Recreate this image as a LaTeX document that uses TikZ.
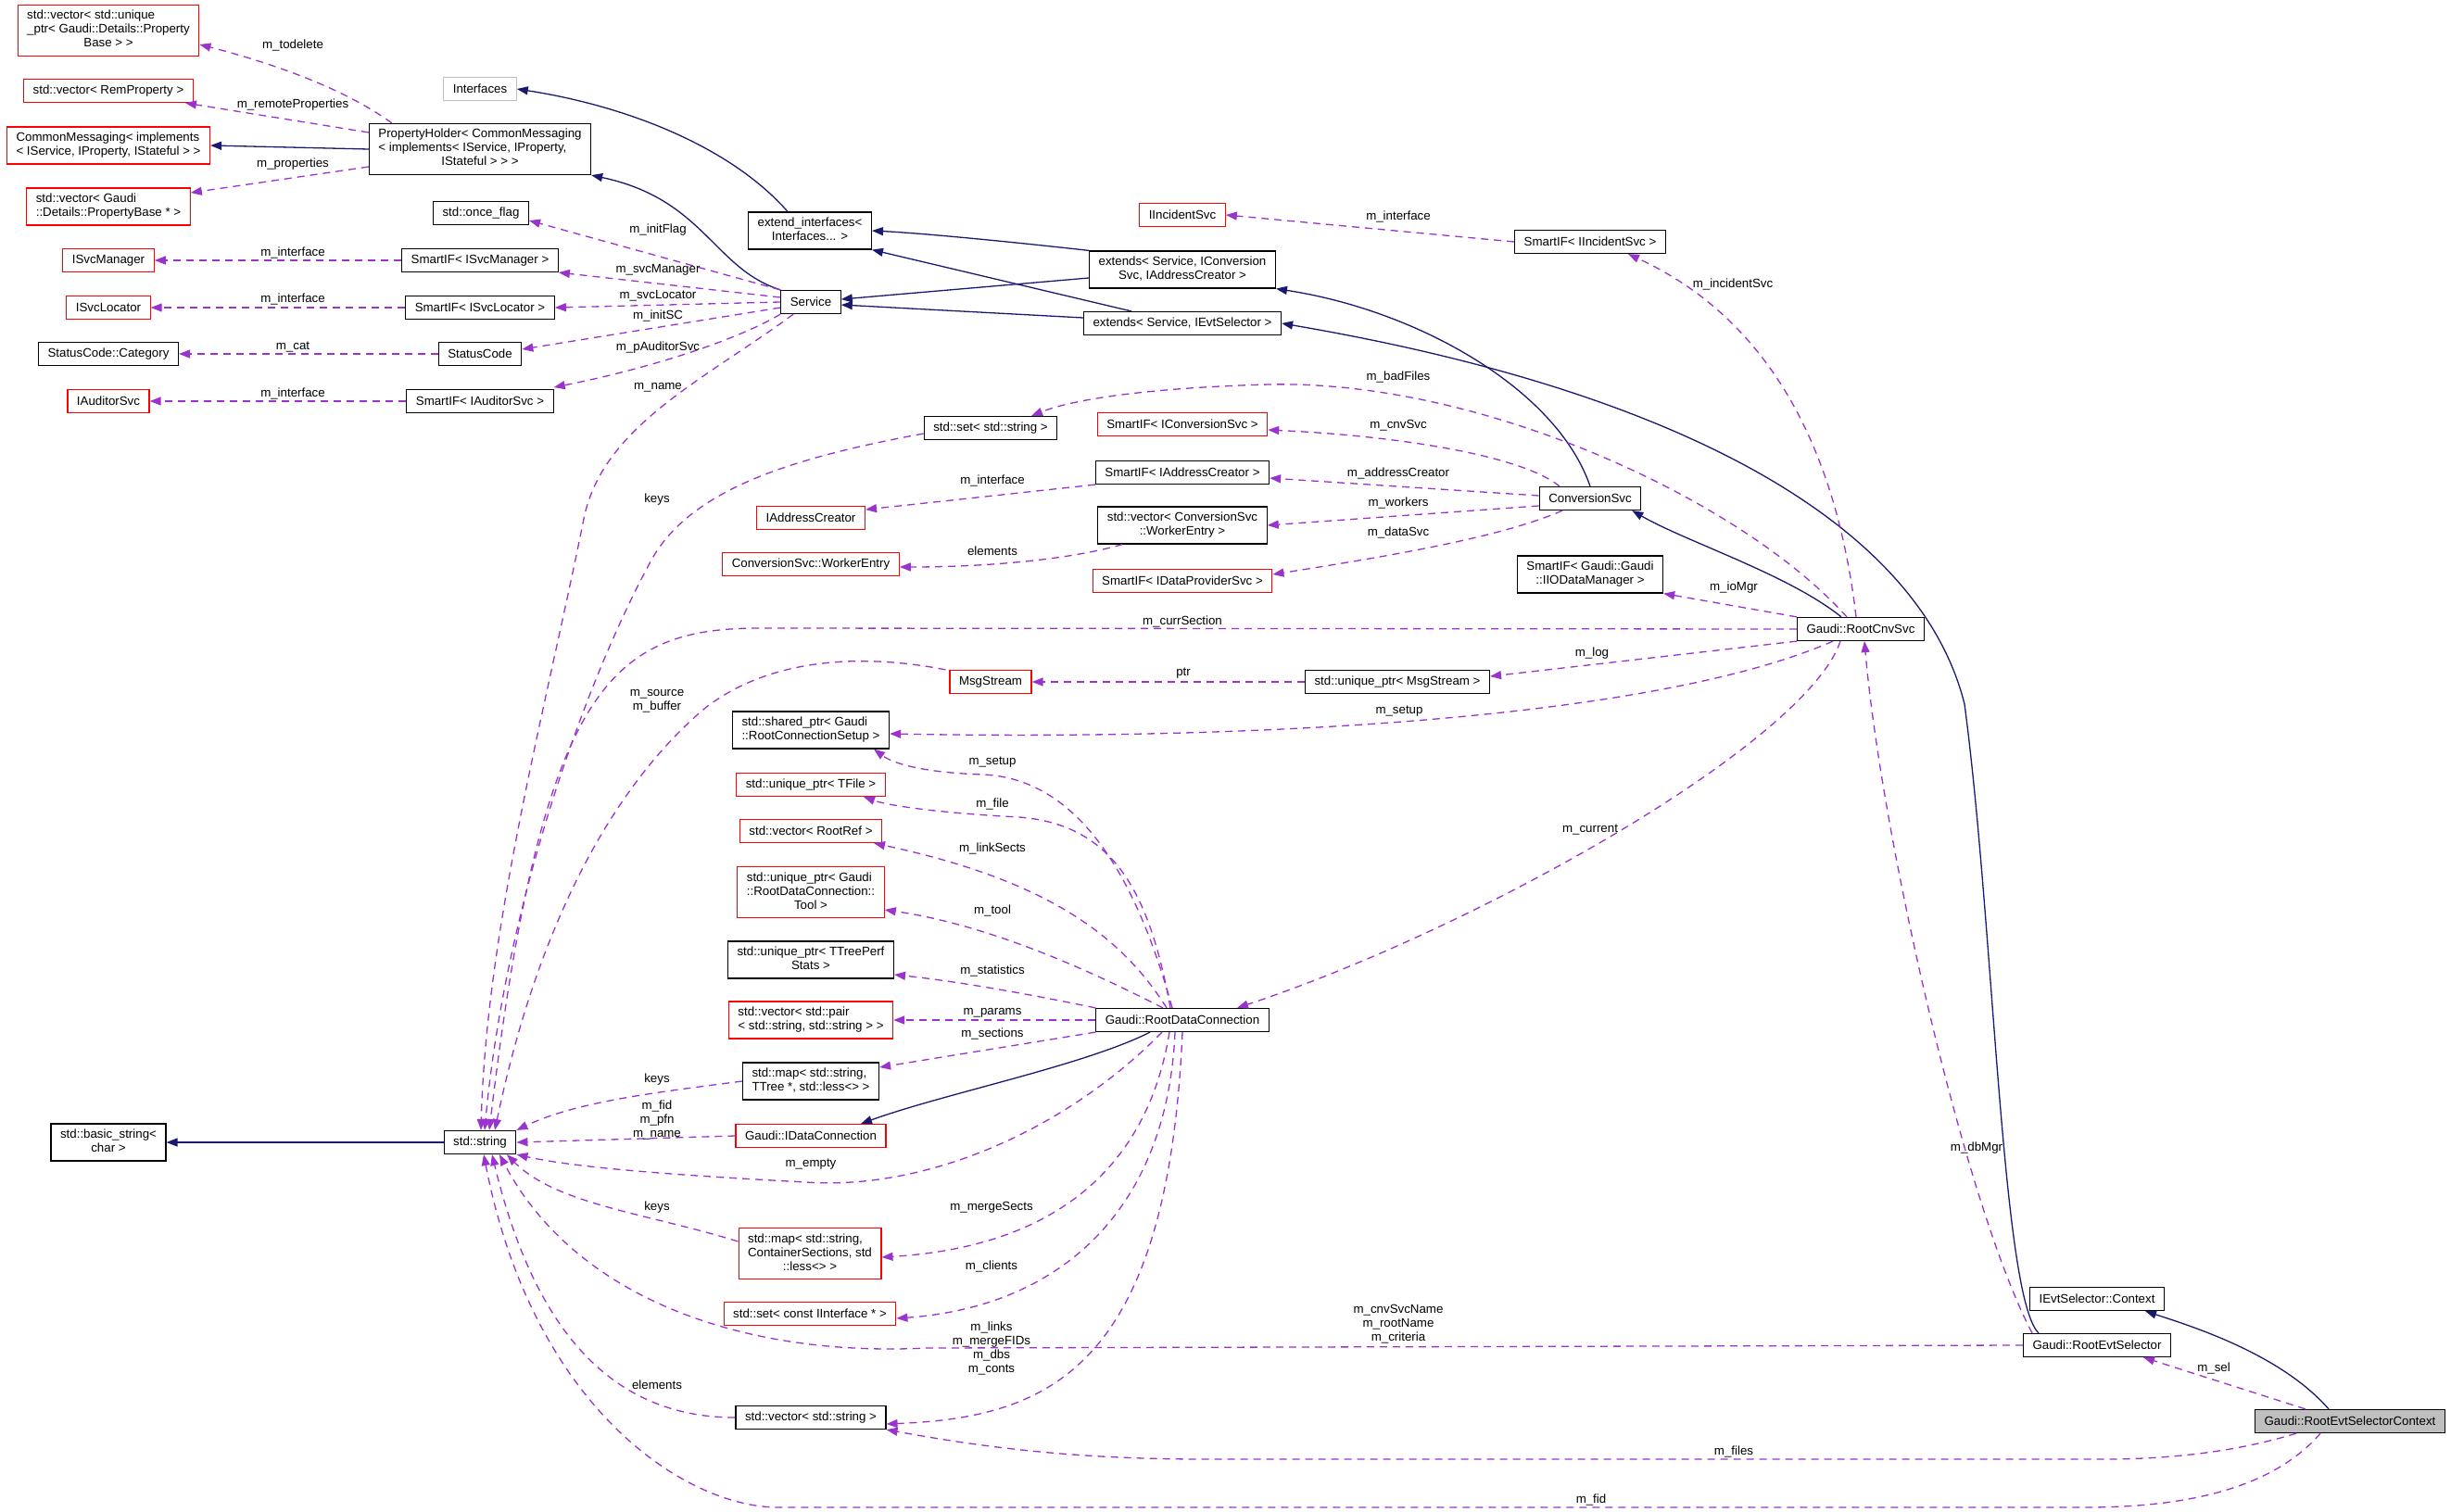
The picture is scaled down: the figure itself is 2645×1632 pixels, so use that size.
\documentclass[tikz,border=0pt]{standalone}
\usepackage{fontspec}
\setmainfont{Liberation Sans}
\usetikzlibrary{arrows.meta}
\definecolor{inhblue}{RGB}{25,25,112}
\definecolor{usepurple}{RGB}{154,50,205}
\definecolor{lightframe}{RGB}{191,191,191}
\newcommand{\twoline}[2]{\begin{tabular}{@{}l@{}}#1\\\multicolumn{1}{@{}c@{}}{#2}\end{tabular}}

\begin{document}
\begin{tikzpicture}[x=1pt, y=-1pt,
  every node/.style={font=\fontsize{13.3}{15}\selectfont},
  cls/.style={draw=black, line width=1.2pt, fill=white, inner xsep=10pt, inner ysep=5pt, minimum height=25pt},
  ext/.style={cls, draw=red},
  inh/.style={draw=inhblue, line width=1.3pt, -{Triangle[length=12pt,width=9pt]}},
  dep/.style={draw=usepurple, line width=1.3pt, dash pattern=on 8pt off 6pt, -{Triangle[length=12pt,width=9pt]}},
  lbl/.style={inner sep=0pt, align=center}]
  \useasboundingbox (0,0) rectangle (2645,1632);

  % left column
  \node[ext] (vecuptr) at (117,33) {\twoline{std::vector< std::unique\\\_ptr< Gaudi::Details::Property}{Base > >}};
  \node[ext] (vecrem) at (117,98) {std::vector< RemProperty >};
  \node[ext] (cmsg) at (117,157) {\twoline{CommonMessaging< implements}{< IService, IProperty, IStateful > >}};
  \node[ext] (vecpb) at (117,223) {\twoline{std::vector< Gaudi}{::Details::PropertyBase * >}};
  \node[ext] (isvcmgr) at (117,281) {ISvcManager};
  \node[ext] (isvcloc) at (117,332) {ISvcLocator};
  \node[cls] (sccat) at (117,382) {StatusCode::Category};
  \node[ext] (iaud) at (117,433) {IAuditorSvc};
  \node[cls] (bstr) at (117,1233) {\twoline{std::basic\_string<}{char >}};

  % second column
  \node[cls, draw=lightframe] (ifaces) at (518,96) {Interfaces};
  \node[cls] (pholder) at (518,161) {\twoline{PropertyHolder< CommonMessaging\\< implements< IService, IProperty,}{IStateful > > >}};
  \node[cls] (once) at (519,230) {std::once\_flag};
  \node[cls] (smgr) at (518,281) {SmartIF< ISvcManager >};
  \node[cls] (sloc) at (518,332) {SmartIF< ISvcLocator >};
  \node[cls] (sc) at (518,382) {StatusCode};
  \node[cls] (saud) at (518,433) {SmartIF< IAuditorSvc >};
  \node[cls] (str) at (518,1233) {std::string};

  % third column
  \node[cls] (extif) at (874,249) {\twoline{extend\_interfaces<}{Interfaces... >}};
  \node[cls] (svc) at (875,326) {Service};
  \node[cls] (setstr) at (1069,462) {std::set< std::string >};
  \node[ext] (iaddr) at (875,559) {IAddressCreator};
  \node[ext] (wentry) at (875,609) {ConversionSvc::WorkerEntry};
  \node[ext] (msg) at (1069,736) {MsgStream};
  \node[cls] (shptr) at (875,788) {\twoline{std::shared\_ptr< Gaudi}{::RootConnectionSetup >}};
  \node[ext] (tfile) at (875,847) {std::unique\_ptr< TFile >};
  \node[ext] (rootref) at (875,897) {std::vector< RootRef >};
  \node[ext] (tool) at (875,963) {\twoline{std::unique\_ptr< Gaudi\\::RootDataConnection::}{Tool >}};
  \node[cls] (perf) at (875,1036) {\twoline{std::unique\_ptr< TTreePerf}{Stats >}};
  \node[ext] (vpair) at (875,1101) {\twoline{std::vector< std::pair}{< std::string, std::string > >}};
  \node[cls] (mtree) at (875,1167) {\twoline{std::map< std::string,}{TTree *, std::less<> >}};
  \node[ext] (idc) at (875,1226) {Gaudi::IDataConnection};
  \node[ext] (mcont) at (874,1353) {\twoline{std::map< std::string,\\ContainerSections, std}{::less<> >}};
  \node[ext] (siface) at (874,1418) {std::set< const IInterface * >};
  \node[cls] (vstr) at (875,1530) {std::vector< std::string >};

  % fourth column
  \node[ext] (iinc) at (1276,232) {IIncidentSvc};
  \node[cls] (extconv) at (1276,291) {\twoline{extends< Service, IConversion}{Svc, IAddressCreator >}};
  \node[cls] (extevt) at (1276,349) {extends< Service, IEvtSelector >};
  \node[ext] (scnv) at (1276,458) {SmartIF< IConversionSvc >};
  \node[cls] (saddr) at (1276,510) {SmartIF< IAddressCreator >};
  \node[cls] (vwork) at (1276,567) {\twoline{std::vector< ConversionSvc}{::WorkerEntry >}};
  \node[ext] (sdata) at (1276,627) {SmartIF< IDataProviderSvc >};
  \node[cls] (rdc) at (1276,1101) {Gaudi::RootDataConnection};

  % right part
  \node[cls] (sinc) at (1716,261) {SmartIF< IIncidentSvc >};
  \node[cls] (cnvsvc) at (1716,538) {ConversionSvc};
  \node[cls] (iomgr) at (1716,620) {\twoline{SmartIF< Gaudi::Gaudi}{::IIODataManager >}};
  \node[cls] (uptrmsg) at (1508,736) {std::unique\_ptr< MsgStream >};
  \node[cls] (rcnv) at (2008,679) {Gaudi::RootCnvSvc};
  \node[cls] (ctxi) at (2263,1402) {IEvtSelector::Context};
  \node[cls] (rsel) at (2263,1452) {Gaudi::RootEvtSelector};
  \node[cls, fill=lightframe] (rctx) at (2536,1534) {Gaudi::RootEvtSelectorContext};

  % inheritance
  \draw[inh] (pholder.west) -- (cmsg.east);
  \draw[inh] ([xshift=-24pt]extif.north) .. controls (790,160) and (680,115) .. (ifaces.east);
  \draw[inh] (svc.north west) .. controls (770,290) and (760,215) .. (pholder.south east);
  \draw[inh] (extconv.north west) .. controls (1100,262) and (1000,252) .. (extif.east);
  \draw[inh] ([xshift=52pt]extevt.north west) -- (extif.south east);
  \draw[inh] ([yshift=-9pt]extconv.west) -- ([yshift=3pt]svc.east);
  \draw[inh] ([yshift=6pt]extevt.west) -- ([yshift=-3pt]svc.east);
  \draw[inh] (cnvsvc.north) .. controls (1680,420) and (1530,335) .. (extconv.south east);
  \draw[inh] ([xshift=48pt]rcnv.north west) .. controls (1930,620) and (1820,585) .. ([xshift=-10pt]cnvsvc.south east);
  \draw[inh] ([xshift=-63pt]rsel.north) .. controls (2160,1400) and (2152,1000) .. (2120,760)
    .. controls (2070,560) and (1800,420) .. (extevt.east);
  \draw[inh] ([xshift=-35pt]rdc.south) .. controls (1170,1150) and (1020,1180) .. ([xshift=54pt]idc.north);
  \draw[inh] (str.west) -- (bstr.east);
  \draw[inh] ([xshift=-23pt]rctx.north) .. controls (2460,1460) and (2360,1430) .. ([xshift=52pt]ctxi.south);

  % members of PropertyHolder and the SmartIFs
  \draw[dep] ([xshift=25pt]pholder.north west) .. controls (385,105) and (320,75) .. ([yshift=-15pt]vecuptr.east);
  \draw[dep] ([yshift=18pt]pholder.west) -- ([xshift=-9pt]vecrem.south east);
  \draw[dep] ([yshift=-19pt]pholder.west) -- ([yshift=15pt]vecpb.east);
  \foreach \a/\b in {smgr/isvcmgr, sloc/isvcloc, sc/sccat, saud/iaud}
    \draw[dep] (\a.west) -- (\b.east);
  \node[lbl] (ltodel) at (316,49) {m\_todelete};
  \node[lbl] (lremote) at (316,113) {m\_remoteProperties};
  \node[lbl] (lprops) at (316,177) {m\_properties};
  \node[lbl] (lif1) at (316,273) {m\_interface};
  \node[lbl] (lif2) at (316,323) {m\_interface};
  \node[lbl] (lcat) at (316,375) {m\_cat};
  \node[lbl] (lif3) at (316,425) {m\_interface};

  % members of Service
  \draw[dep] (svc.north west) -- ([yshift=-8pt]once.east);
  \draw[dep] ([yshift=5pt]svc.west) -- (smgr.south east);
  \draw[dep] (svc.west) -- (sloc.east);
  \draw[dep] ([yshift=-6pt]svc.west) -- ([yshift=5pt]sc.east);
  \draw[dep] (svc.south west) .. controls (790,370) and (690,400) .. ([yshift=15pt]saud.east);
  \draw[dep] ([xshift=14pt]svc.south west) .. controls (760,410) and (650,460) .. (630,560)
    .. controls (590,760) and (525,1000) .. ([xshift=1pt]str.north);
  \node[lbl] (linitflag) at (710,248) {m\_initFlag};
  \node[lbl] (lsvcmgr) at (710,291) {m\_svcManager};
  \node[lbl] (lsvcloc) at (710,319) {m\_svcLocator};
  \node[lbl] (linitsc) at (710,341) {m\_initSC};
  \node[lbl] (laudit) at (710,375) {m\_pAuditorSvc};
  \node[lbl] (lname) at (710,418) {m\_name};

  % std::string users above
  \draw[dep] ([yshift=-6pt]setstr.west) .. controls (850,495) and (740,530) .. (700,610)
    .. controls (630,740) and (545,980) .. ([xshift=5pt]str.north);
  \draw[dep] (rcnv.west) -- (820,678) .. controls (660,678) and (585,740) .. ([xshift=10pt]str.north);
  \draw[dep] ([xshift=-4pt]msg.north west) .. controls (930,705) and (830,710) .. (760,765)
    .. controls (660,850) and (580,1000) .. ([xshift=16pt]str.north);
  \node[lbl] (lkeys1) at (709,539) {keys};
  \node[lbl] (lsource) at (709,757) {m\_source\\m\_buffer};
  \node[lbl] (lcurrsec) at (1276,671) {m\_currSection};

  % members of RootCnvSvc
  \draw[dep] ([xshift=-30pt]rcnv.south) .. controls (1800,770) and (1400,800) .. ([yshift=-4pt]shptr.east);
  \draw[dep] ([xshift=-22pt]rcnv.south) .. controls (1950,800) and (1600,1000) .. ([xshift=59pt]rdc.north);
  \draw[dep] (rcnv.south west) -- ([yshift=6pt]uptrmsg.east);
  \draw[dep] (rcnv.north west) -- (iomgr.south east);
  \draw[dep] ([xshift=-15pt]rcnv.north) .. controls (1880,540) and (1600,410) .. (1370,415)
    .. controls (1250,418) and (1160,430) .. ([xshift=44pt]setstr.north);
  \draw[dep] ([xshift=-5pt]rcnv.north) .. controls (1980,470) and (1900,340) .. ([xshift=41pt]sinc.south);
  \draw[dep] (sinc.west) -- (iinc.east);
  \draw[dep] (uptrmsg.west) -- (msg.east);
  \node[lbl] (lsetup1) at (1510,768) {m\_setup};
  \node[lbl] (lcurrent) at (1716,896) {m\_current};
  \node[lbl] (llog) at (1718,705) {m\_log};
  \node[lbl] (liomgr) at (1871,634) {m\_ioMgr};
  \node[lbl] (lbadfiles) at (1509,407) {m\_badFiles};
  \node[lbl] (lincident) at (1870,307) {m\_incidentSvc};
  \node[lbl] (lif4) at (1509,234) {m\_interface};
  \node[lbl] (lptr) at (1277,727) {ptr};

  % members of ConversionSvc
  \draw[dep] ([xshift=-33pt]cnvsvc.north) .. controls (1640,490) and (1500,470) .. ([yshift=-6pt]scnv.east);
  \draw[dep] ([yshift=3pt]cnvsvc.west) -- ([yshift=-6pt]saddr.east);
  \draw[dep] ([yshift=-8pt]cnvsvc.west) -- (vwork.east);
  \draw[dep] ([xshift=-30pt]cnvsvc.south) .. controls (1620,580) and (1500,600) .. ([yshift=7pt]sdata.east);
  \draw[dep] (saddr.south west) -- ([yshift=9pt]iaddr.east);
  \draw[dep] ([xshift=27pt]vwork.south west) .. controls (1150,605) and (1060,612) .. ([yshift=-3pt]wentry.east);
  \node[lbl] (lcnvsvc) at (1509,459) {m\_cnvSvc};
  \node[lbl] (laddr) at (1509,511) {m\_addressCreator};
  \node[lbl] (lworkers) at (1509,543) {m\_workers};
  \node[lbl] (ldatasvc) at (1509,575) {m\_dataSvc};
  \node[lbl] (lif5) at (1071,519) {m\_interface};
  \node[lbl] (lelem1) at (1071,595) {elements};

  % members of RootDataConnection
  \draw[dep] ([xshift=-11pt]rdc.north) .. controls (1230,960) and (1170,840) .. (1060,836)
    .. controls (1000,834) and (965,825) .. ([xshift=68pt]shptr.south);
  \draw[dep] ([xshift=-13pt]rdc.north) .. controls (1240,960) and (1200,890) .. (1100,882)
    .. controls (1020,878) and (960,870) .. ([xshift=57pt]tfile.south);
  \draw[dep] ([xshift=-17pt]rdc.north) .. controls (1210,1010) and (1130,950) .. ([xshift=68pt]rootref.south);
  \draw[dep] ([xshift=-21pt]rdc.north) .. controls (1200,1060) and (1080,1000) .. ([yshift=-19pt]tool.east);
  \draw[dep] (rdc.north west) .. controls (1120,1075) and (1040,1060) .. ([yshift=-16pt]perf.east);
  \draw[dep] (rdc.west) -- (vpair.east);
  \draw[dep] (rdc.south west) -- ([yshift=15pt]mtree.east);
  \draw[dep] ([xshift=-22pt]rdc.south) .. controls (1150,1220) and (1000,1285) .. (870,1276)
    .. controls (720,1268) and (620,1260) .. (str.south east);
  \draw[dep] ([xshift=-14pt]rdc.south) .. controls (1240,1250) and (1150,1345) .. ([yshift=-4pt]mcont.east);
  \draw[dep] ([xshift=-8pt]rdc.south) .. controls (1260,1300) and (1150,1410) .. ([yshift=-5pt]siface.east);
  \draw[dep] (rdc.south) .. controls (1260,1480) and (1130,1530) .. ([yshift=-7pt]vstr.east);
  \node[lbl] (lsetup2) at (1071,823) {m\_setup};
  \node[lbl] (lfile) at (1071,868) {m\_file};
  \node[lbl] (llinks) at (1071,916) {m\_linkSects};
  \node[lbl] (ltool) at (1071,983) {m\_tool};
  \node[lbl] (lstat) at (1071,1048) {m\_statistics};
  \node[lbl] (lparams) at (1071,1093) {m\_params};
  \node[lbl] (lsections) at (1071,1116) {m\_sections};
  \node[lbl] (lempty) at (875,1257) {m\_empty};
  \node[lbl] (lmerge) at (1070,1303) {m\_mergeSects};
  \node[lbl] (lclients) at (1070,1367) {m\_clients};
  \node[lbl] (lvstr) at (1070,1455) {m\_links\\m\_mergeFIDs\\m\_dbs\\m\_conts};

  % std::string users below
  \draw[dep] (mtree.west) .. controls (700,1180) and (620,1190) .. (str.north east);
  \draw[dep] (idc.west) -- (str.east);
  \draw[dep] ([yshift=13pt]mcont.west) .. controls (700,1310) and (600,1300) .. ([xshift=29pt]str.south);
  \draw[dep] (vstr.west) .. controls (670,1530) and (580,1450) .. ([xshift=13pt]str.south);
  \node[lbl] (lkeys2) at (709,1165) {keys};
  \node[lbl] (lfid1) at (709,1209) {m\_fid\\m\_pfn\\m\_name};
  \node[lbl] (lkeys3) at (709,1303) {keys};
  \node[lbl] (lelem2) at (709,1495) {elements};

  % selector and its context
  \draw[dep] (rsel.west) -- (1000,1455) .. controls (800,1465) and (620,1400) .. ([xshift=21pt]str.south);
  \draw[dep] ([xshift=-70pt]rsel.north) .. controls (2120,1300) and (2030,900) .. ([xshift=4pt]rcnv.south);
  \draw[dep] ([xshift=-48pt]rctx.north) -- ([xshift=50pt]rsel.south);
  \draw[dep] ([xshift=-58pt]rctx.south) .. controls (2420,1565) and (2350,1575) .. (2270,1575) -- (1300,1575)
    .. controls (1150,1575) and (1050,1560) .. (vstr.south east);
  \draw[dep] ([xshift=-32pt]rctx.south) .. controls (2450,1610) and (2350,1627) .. (2250,1627) -- (840,1627)
    .. controls (740,1627) and (575,1520) .. ([xshift=4pt]str.south);
  \node[lbl] (lcnvname) at (1509,1429) {m\_cnvSvcName\\m\_rootName\\m\_criteria};
  \node[lbl] (ldbmgr) at (2133,1239) {m\_dbMgr};
  \node[lbl] (lsel) at (2389,1477) {m\_sel};
  \node[lbl] (lfiles) at (1871,1567) {m\_files};
  \node[lbl] (lfid2) at (1717,1619) {m\_fid};
\end{tikzpicture}
\end{document}
